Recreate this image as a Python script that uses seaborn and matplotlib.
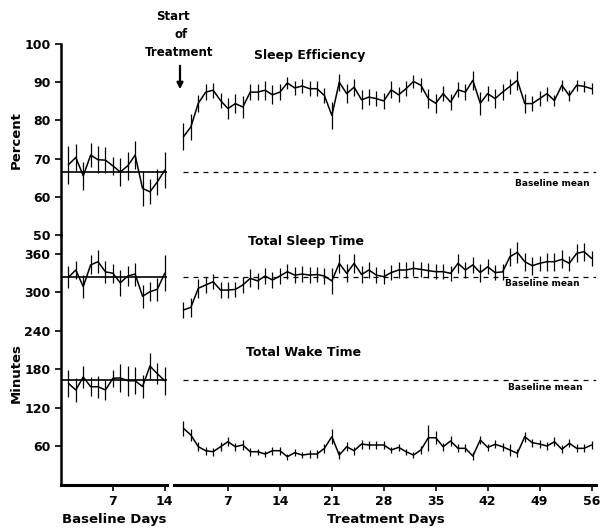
import matplotlib
matplotlib.use("Agg")
import matplotlib.pyplot as plt
import numpy as np
import pandas as pd
import seaborn as sns

# ---- data ----
base_days = list(range(1, 15))
treat_days = list(range(1, 57))

base_eff = [68.4, 70.3, 65.5, 70.9, 69.7, 69.6, 68.1, 66.5, 68.1, 70.9, 62.2, 61.3, 63.9, 67.0]
base_eff_se = [5.0, 3.5, 3.7, 3.2, 3.5, 3.5, 2.4, 3.7, 3.7, 3.7, 4.5, 3.3, 3.5, 4.8]
treat_eff = [75.7, 78.3, 84.5, 87.4, 87.9, 85.2, 83.1, 84.4, 83.5, 87.4,
             87.4, 87.9, 86.7, 87.4, 89.8, 88.5, 89.0, 88.3, 88.3, 86.5,
             81.3, 90.0, 87.0, 88.7, 85.4, 86.1, 85.7, 85.1, 88.0, 86.7,
             88.3, 90.2, 89.2, 85.7, 84.5, 87.0, 84.8, 88.0, 87.4, 90.5,
             84.5, 87.0, 85.7, 87.4, 88.9, 90.5, 84.4, 84.4, 85.7, 87.0,
             85.2, 89.2, 86.5, 89.2, 88.9, 88.3]
treat_eff_se = [3.5, 3.3, 2.2, 2.0, 2.0, 2.0, 2.8, 2.5, 3.0, 2.0,
                2.0, 2.5, 2.5, 2.0, 1.5, 1.8, 1.8, 2.0, 2.0, 2.0,
                3.5, 2.2, 2.5, 2.2, 2.5, 2.0, 2.0, 2.0, 2.2, 2.0,
                2.0, 1.8, 1.8, 2.5, 2.5, 2.0, 2.2, 2.0, 2.0, 2.5,
                3.0, 2.0, 2.5, 2.0, 2.0, 2.5, 2.5, 2.0, 2.0, 1.8,
                1.5, 1.5, 1.5, 1.5, 1.5, 1.5]
eff_base_mean = 66.6

base_tst = [323.6, 335.0, 309.0, 343.0, 348.0, 332.0, 330.0, 315.0, 325.6, 328.7, 294.0, 301.0, 305.0, 330.0]
base_tst_se = [17, 14, 18, 15, 18, 17, 15, 20, 15, 18, 18, 15, 18, 28]
treat_tst = [272.5, 276.7, 306.4, 311.6, 316.7, 303.7, 303.7, 304.7, 311.6, 322.0,
             318.0, 325.6, 319.4, 325.6, 332.4, 327.0, 328.7, 327.0, 328.0, 325.6,
             318.0, 345.4, 329.8, 345.4, 328.0, 335.0, 327.0, 324.6, 331.0, 335.0,
             335.0, 337.6, 336.0, 334.0, 332.4, 332.4, 329.8, 345.4, 335.0, 343.0,
             331.0, 340.0, 331.0, 332.0, 355.8, 362.6, 348.0, 341.7, 345.4, 348.0,
             348.0, 351.6, 345.4, 361.0, 363.6, 353.2]
treat_tst_se = [12, 15, 15, 12, 12, 12, 12, 12, 12, 14,
                12, 12, 12, 12, 12, 12, 12, 12, 12, 12,
                20, 15, 14, 15, 14, 12, 12, 12, 12, 12,
                12, 12, 12, 12, 12, 12, 12, 15, 12, 12,
                14, 12, 12, 12, 14, 16, 14, 14, 12, 14,
                14, 14, 12, 14, 14, 12]
tst_base_mean = 323.6

base_twt = [158.0, 147.6, 168.0, 152.7, 152.7, 147.6, 165.8, 166.5, 162.0, 162.0, 153.0, 185.0, 173.0, 162.0]
base_twt_se = [21, 18, 17, 15, 17, 15, 13, 22, 23, 21, 18, 21, 16, 22]
treat_twt = [87.7, 77.3, 59.0, 52.8, 51.2, 59.0, 66.8, 59.0, 61.7, 51.2,
             51.2, 47.6, 52.8, 52.8, 43.4, 49.7, 46.0, 47.6, 47.6, 56.5,
             74.7, 46.0, 59.0, 52.8, 63.2, 61.7, 61.7, 61.7, 53.9, 58.0,
             51.2, 46.0, 53.9, 73.0, 73.0, 59.0, 67.9, 56.5, 56.5, 44.5,
             69.5, 58.0, 62.8, 59.0, 53.9, 48.7, 74.7, 65.3, 63.2, 60.1,
             66.8, 55.0, 64.3, 56.5, 56.5, 61.7]
treat_twt_se = [12, 9, 7, 6, 6, 7, 7, 6, 8, 6,
                5, 5, 6, 6, 5, 5, 5, 6, 6, 7,
                12, 6, 7, 6, 7, 6, 6, 6, 5, 6,
                5, 5, 6, 20, 10, 6, 8, 6, 6, 6,
                7, 6, 6, 6, 10, 6, 8, 6, 6, 6,
                7, 6, 6, 6, 6, 6]
twt_base_mean = 163.0

# ---- layout (pixel geometry of the 603x530 figure) ----
W, H = 603, 530
sns.set_style("ticks")
plt.rcParams["font.family"] = ["DejaVu Sans"]
plt.rcParams.update({"text.color": "black", "axes.edgecolor": "black",
                     "xtick.color": "black", "ytick.color": "black",
                     "axes.labelcolor": "black"})

fig = plt.figure(figsize=(6.03, 5.30), dpi=100)


def px_axes(x0, y_top, x1, y_bot):
    return fig.add_axes([x0 / W, 1 - y_bot / H, (x1 - x0) / W, (y_bot - y_top) / H])


ax_tl = px_axes(61, 44, 167, 235)
ax_tr = px_axes(173.8, 44, 596, 235)
ax_bl = px_axes(61, 235, 167, 484.5)
ax_br = px_axes(173.8, 235, 596, 484.5)

min_top = 360 * (484.5 - 235) / (484.5 - 254)


def draw_series(ax, days, vals, se):
    df = pd.DataFrame({"day": days, "val": vals})
    sns.lineplot(data=df, x="day", y="val", ax=ax, color="black", lw=1.1)
    ax.errorbar(days, vals, yerr=se, fmt="none", ecolor="black", elinewidth=0.9, capsize=0)


draw_series(ax_tl, base_days, base_eff, base_eff_se)
draw_series(ax_tr, treat_days, treat_eff, treat_eff_se)
draw_series(ax_bl, base_days, base_tst, base_tst_se)
draw_series(ax_bl, base_days, base_twt, base_twt_se)
draw_series(ax_br, treat_days, treat_tst, treat_tst_se)
draw_series(ax_br, treat_days, treat_twt, treat_twt_se)

# baseline means: solid in baseline panel, dashed across treatment
ax_tl.axhline(eff_base_mean, color="black", lw=1.2)
ax_bl.axhline(tst_base_mean, color="black", lw=1.2)
ax_bl.axhline(twt_base_mean, color="black", lw=1.2)
for ax, m in [(ax_tr, eff_base_mean), (ax_br, tst_base_mean), (ax_br, twt_base_mean)]:
    ax.plot([1, 56.6], [m, m], color="black", lw=0.9, ls=(0, (4, 4)))

for ax in (ax_tl, ax_bl):
    ax.set_xlim(0, 14.3)
for ax in (ax_tr, ax_br):
    ax.set_xlim(-0.3, 56.6)
ax_tl.set_ylim(50, 100)
ax_tr.set_ylim(50, 100)
ax_bl.set_ylim(0, min_top)
ax_br.set_ylim(0, min_top)

for ax in (ax_tl, ax_tr, ax_bl, ax_br):
    ax.set_facecolor("none")
    ax.set_xlabel("")
    ax.set_ylabel("")
    for s in ("top", "right"):
        ax.spines[s].set_visible(False)
    ax.tick_params(labelsize=9, width=1.2, length=4, direction="out")

for ax in (ax_tl, ax_tr):
    ax.spines["bottom"].set_visible(False)
    ax.set_xticks([])
for ax in (ax_tr, ax_br):
    ax.spines["left"].set_visible(False)
    ax.set_yticks([])

ax_tl.set_yticks([50, 60, 70, 80, 90, 100])
ax_bl.set_yticks([60, 120, 180, 240, 300, 360])
ax_bl.set_xticks([7, 14])
ax_br.set_xticks([7, 14, 21, 28, 35, 42, 49, 56])
for ax in (ax_tl, ax_bl):
    ax.spines["left"].set_linewidth(1.8)
for ax in (ax_bl, ax_br):
    ax.spines["bottom"].set_linewidth(2.2)
for ax in (ax_tl, ax_bl, ax_br):
    for lab in ax.get_yticklabels() + ax.get_xticklabels():
        lab.set_fontweight("semibold")

# ---- text ----
def ftext(x, y, s, **kw):
    fig.text(x / W, 1 - y / H, s, ha="center", va="center", **kw)


ftext(16, 140, "Percent", rotation=90, fontsize=9.5, fontweight="bold")
ftext(16, 373, "Minutes", rotation=90, fontsize=9.5, fontweight="bold")
ftext(114, 520, "Baseline Days", fontsize=9.5, fontweight="bold")
ftext(386, 519, "Treatment Days", fontsize=9.5, fontweight="bold")
ftext(173, 16, "Start", fontsize=8.5, fontweight="bold")
ftext(181, 35, "of", fontsize=8.5, fontweight="bold")
ftext(179, 53, "Treatment", fontsize=8.5, fontweight="bold")
ftext(310, 55, "Sleep Efficiency", fontsize=9, fontweight="bold")
ftext(306, 241, "Total Sleep Time", fontsize=9, fontweight="bold")
ftext(304, 352, "Total Wake Time", fontsize=9, fontweight="bold")
ftext(552, 183, "Baseline mean", fontsize=6.5, fontweight="bold")
ftext(542, 284, "Baseline mean", fontsize=6.5, fontweight="bold")
ftext(545, 388, "Baseline mean", fontsize=6.5, fontweight="bold")

fig.add_artist(matplotlib.patches.FancyArrowPatch(
    (180 / W, 1 - 63 / H), (180 / W, 1 - 92 / H), transform=fig.transFigure,
    arrowstyle="-|>", mutation_scale=9, color="black", lw=1.6))

fig.savefig("out.png", dpi=100, facecolor="white")
